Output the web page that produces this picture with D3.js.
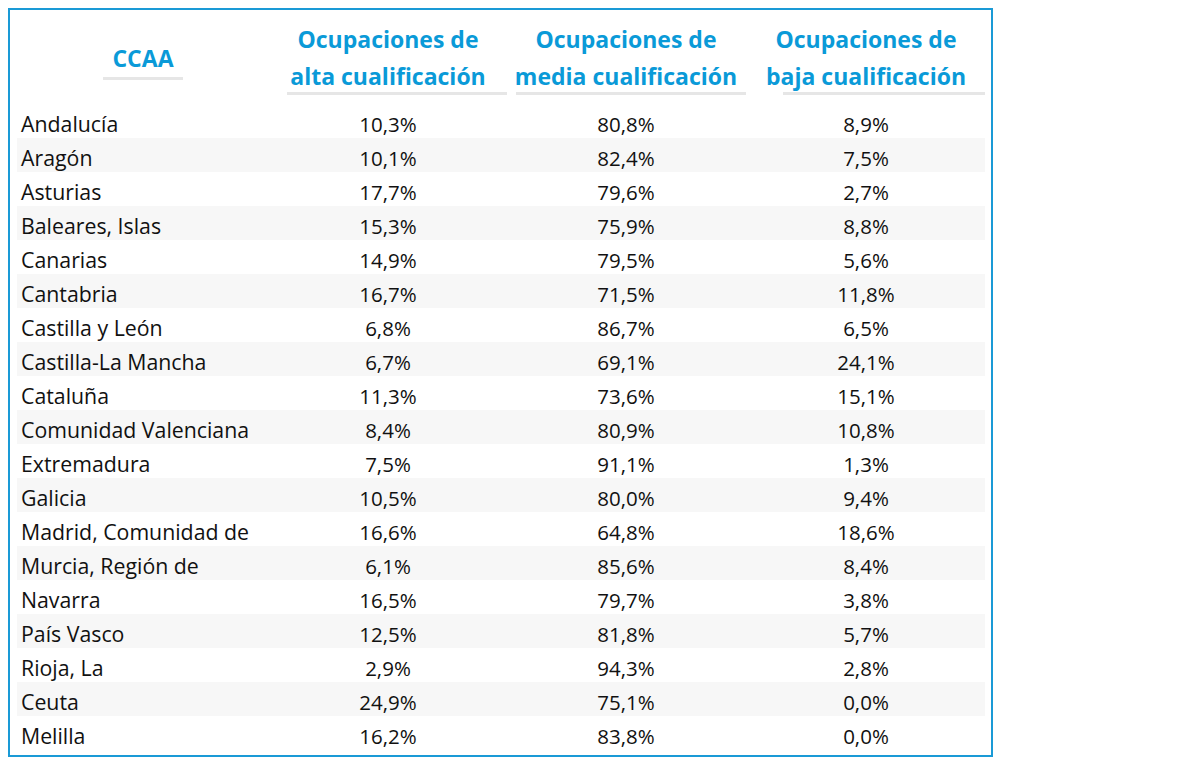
<!DOCTYPE html>
<html lang="es">
  <head>
    <meta charset="UTF-8" />
    <title>Ocupaciones por cualificación y CCAA</title>
    <script src="https://cdn.jsdelivr.net/npm/d3@7"></script>
    <style>
      body { margin: 0; background: #fff; }
      text { font-family: "Open Sans", sans-serif; }
      .head { fill: #0a9ad8; font-weight: bold; font-size: 23px; }
      .cell { fill: #111; font-size: 20.5px; }
      .name { font-size: 21.3px; }
    </style>
  </head>
  <body>
    <div id="chart"></div>
    <script>
      // datos
      const regiones = ["Andalucía", "Aragón", "Asturias", "Baleares, Islas", "Canarias", "Cantabria",
        "Castilla y León", "Castilla-La Mancha", "Cataluña", "Comunidad Valenciana", "Extremadura",
        "Galicia", "Madrid, Comunidad de", "Murcia, Región de", "Navarra", "País Vasco", "Rioja, La",
        "Ceuta", "Melilla"];
      const alta = [10.3, 10.1, 17.7, 15.3, 14.9, 16.7, 6.8, 6.7, 11.3, 8.4, 7.5, 10.5, 16.6, 6.1, 16.5, 12.5, 2.9, 24.9, 16.2];
      const media = [80.8, 82.4, 79.6, 75.9, 79.5, 71.5, 86.7, 69.1, 73.6, 80.9, 91.1, 80.0, 64.8, 85.6, 79.7, 81.8, 94.3, 75.1, 83.8];
      const baja = [8.9, 7.5, 2.7, 8.8, 5.6, 11.8, 6.5, 24.1, 15.1, 10.8, 1.3, 9.4, 18.6, 8.4, 3.8, 5.7, 2.8, 0.0, 0.0];
      const cabeceras = [
        ["Ocupaciones de", "alta cualificación"],
        ["Ocupaciones de", "media cualificación"],
        ["Ocupaciones de", "baja cualificación"]
      ];
      const series = [alta, media, baja];

      const width = 1180, height = 766;
      const svg = d3.select("#chart").append("svg")
        .attr("width", width)
        .attr("height", height);

      // marco
      svg.append("rect")
        .attr("x", 9).attr("y", 9)
        .attr("width", 983).attr("height", 747)
        .attr("fill", "none")
        .attr("stroke", "#1a9ad6")
        .attr("stroke-width", 2);

      const y = d3.scaleBand().domain(regiones).range([104, 104 + 34 * regiones.length]);
      const x = d3.scaleOrdinal().domain([0, 1, 2]).range([388, 626, 866]);
      // extremos de las líneas bajo las cabeceras
      const lineas = d3.scaleOrdinal().domain([0, 1, 2]).range([[287, 507], [516, 746], [783, 985]]);
      const fmt = v => d3.format(".1f")(v).replace(".", ",") + "%";

      // filas alternas
      svg.append("g").selectAll("rect")
        .data(regiones.filter((d, i) => i % 2 === 1))
        .join("rect")
        .attr("x", 17)
        .attr("y", d => y(d))
        .attr("width", 968)
        .attr("height", y.bandwidth())
        .attr("fill", "#f7f7f7");

      // cabecera CCAA
      svg.append("text")
        .attr("class", "head")
        .attr("x", 143).attr("y", 67)
        .attr("text-anchor", "middle")
        .text("CCAA");
      svg.append("rect")
        .attr("x", 103).attr("y", 77)
        .attr("width", 80).attr("height", 3)
        .attr("fill", "#e6e6e6");

      const head = svg.append("g").selectAll("g")
        .data(cabeceras)
        .join("g");
      head.append("text")
        .attr("class", "head")
        .attr("text-anchor", "middle")
        .attr("x", (d, i) => x(i))
        .attr("y", 48)
        .text(d => d[0]);
      head.append("text")
        .attr("class", "head")
        .attr("text-anchor", "middle")
        .attr("x", (d, i) => x(i))
        .attr("y", 85)
        .text(d => d[1]);
      head.append("rect")
        .attr("x", (d, i) => lineas(i)[0])
        .attr("y", 92)
        .attr("width", (d, i) => lineas(i)[1] - lineas(i)[0])
        .attr("height", 3)
        .attr("fill", "#e6e6e6");

      // nombres
      svg.append("g").selectAll("text")
        .data(regiones)
        .join("text")
        .attr("class", "cell name")
        .attr("x", 21)
        .attr("y", d => y(d) + 28)
        .text(d => d);

      // valores
      series.forEach((s, j) => {
        svg.append("g").selectAll("text")
          .data(s)
          .join("text")
          .attr("class", "cell")
          .attr("text-anchor", "middle")
          .attr("x", x(j))
          .attr("y", (d, i) => y(regiones[i]) + 28)
          .text(d => fmt(d));
      });
    </script>
  </body>
</html>
